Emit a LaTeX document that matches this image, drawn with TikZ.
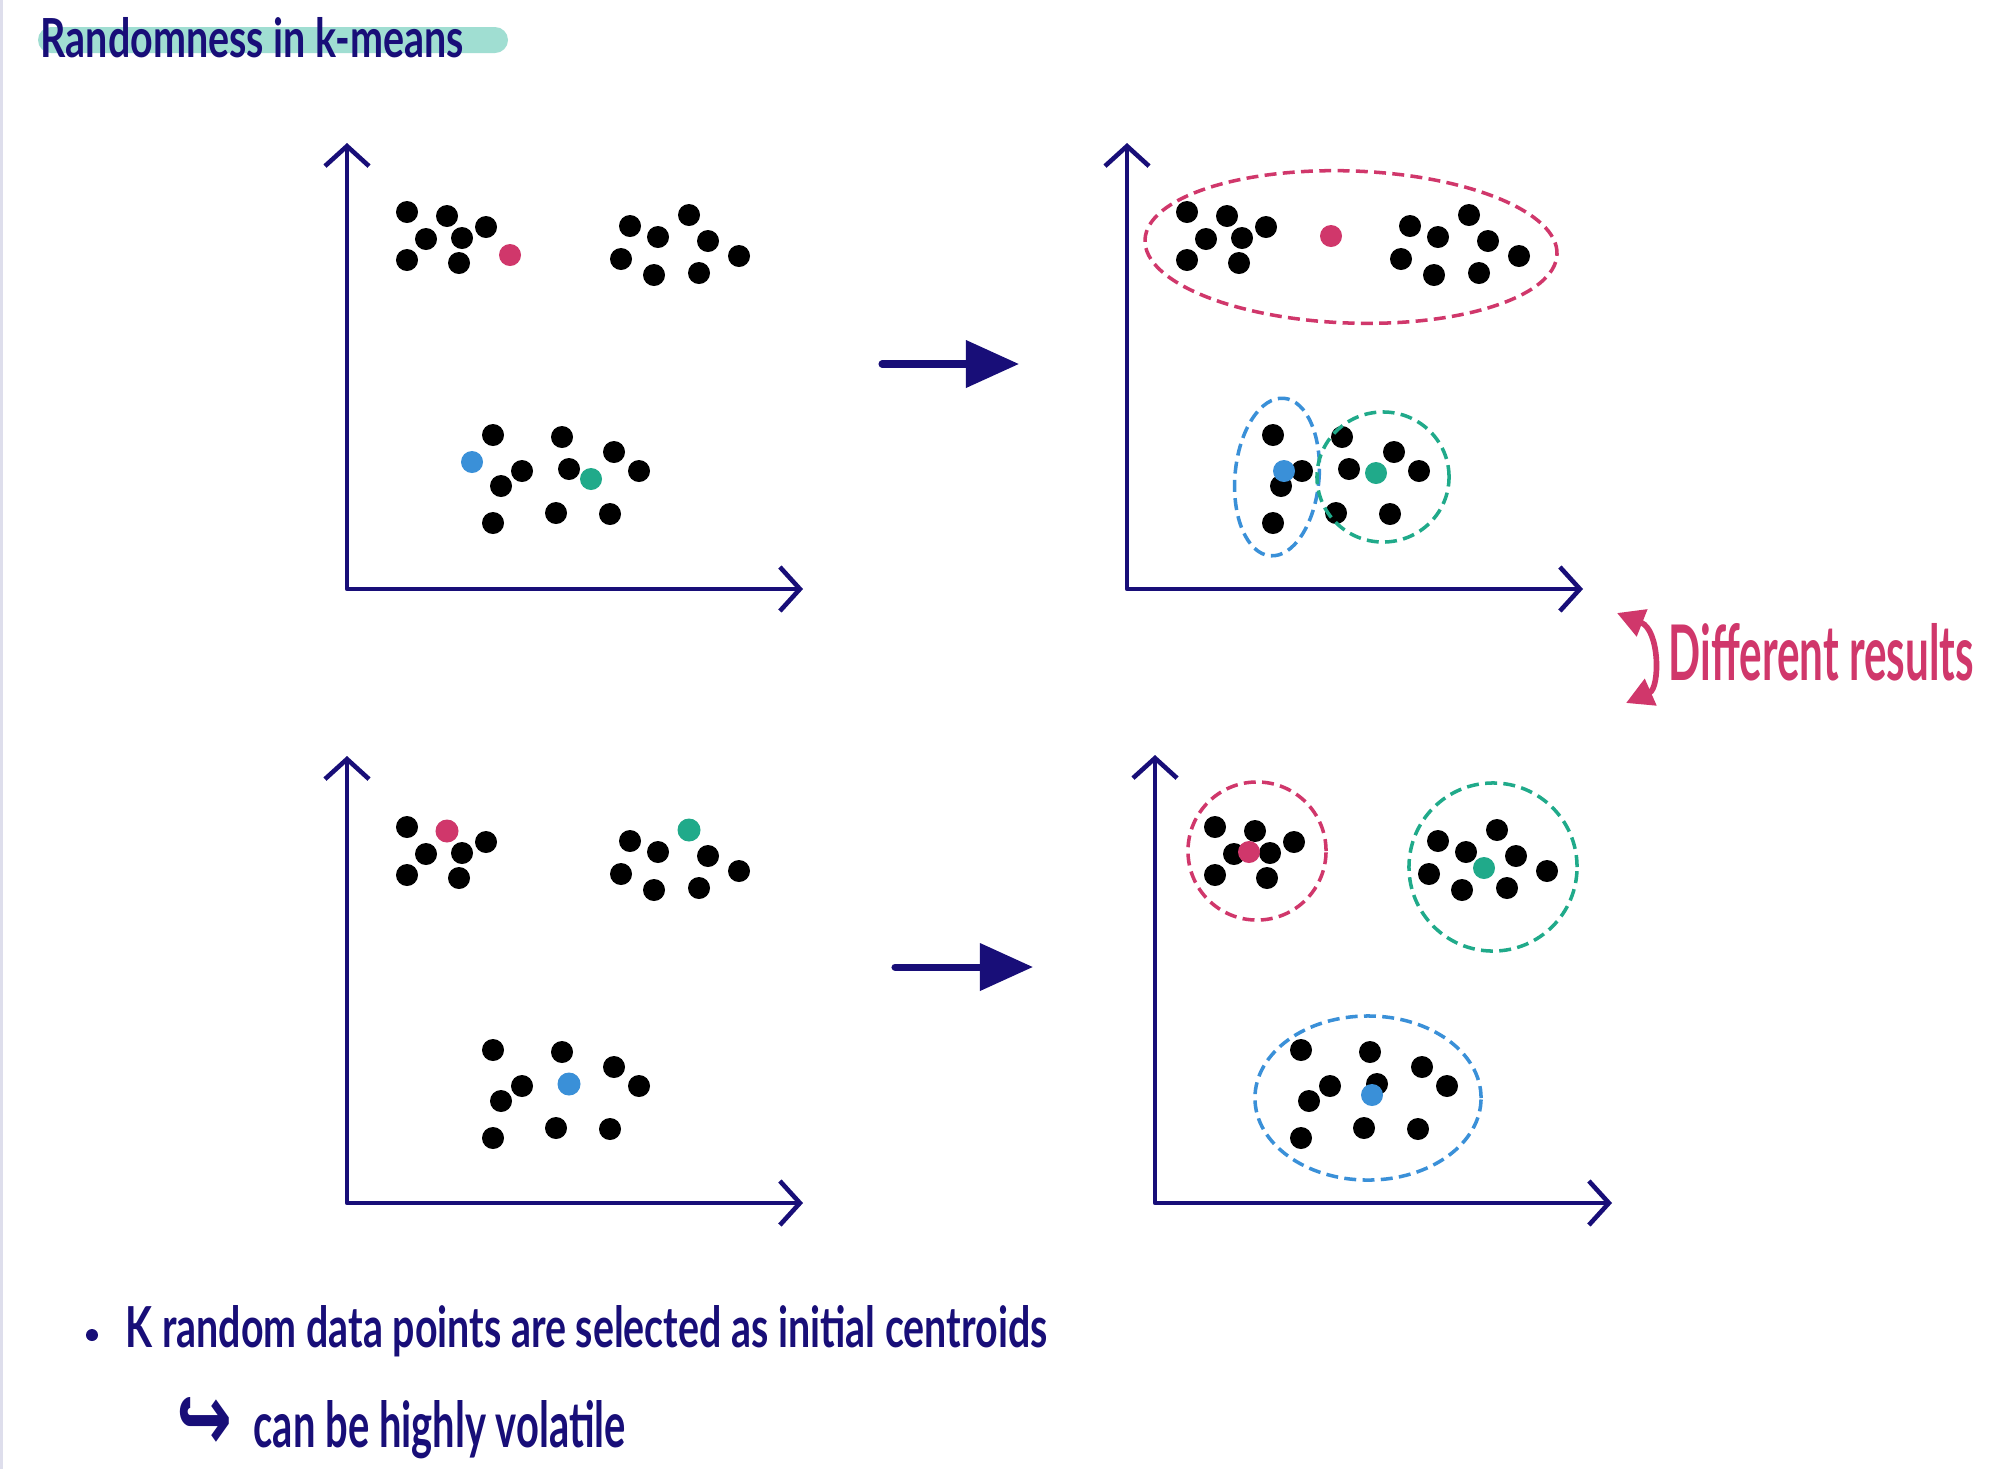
\documentclass[tikz,border=0pt]{standalone}
\usepackage{fontspec}
\setmainfont{Lato}
\newfontfamily\symfont{DejaVu Sans}
\usepackage{graphicx}
\usetikzlibrary{arrows.meta}
\definecolor{navy}{RGB}{24,14,120}
\definecolor{cpink}{RGB}{208,55,107}
\definecolor{cblue}{RGB}{58,144,216}
\definecolor{cteal}{RGB}{32,170,138}
\definecolor{hl}{RGB}{160,222,210}
\definecolor{edgegrey}{RGB}{222,222,236}
\begin{document}
\begin{tikzpicture}[x=0.01cm,y=-0.01cm,
  blackdot/.style={fill=black},
  centroid/.style={fill=#1},
  axis/.style={draw=navy, line width=1.3pt, line cap=round, line join=round,
    {Straight Barb[length=2mm,width=4.4mm]}-{Straight Barb[length=2mm,width=4.4mm]}},
  bigarrow/.style={draw=navy, line width=2pt, line cap=round,
    -{Triangle[length=5.3mm,width=4.6mm]}},
  cluster/.style={draw=#1, line width=1pt, dash pattern=on 3.4pt off 1.8pt},
  txt/.style={inner sep=0pt, anchor=base west, text=navy, font=\bfseries}]
\useasboundingbox (0,0) rectangle (2000,1469);
\fill[white] (0,0) rectangle (2000,1469);
\fill[edgegrey] (0,0) rectangle (3,1469);

% title
\fill[hl, rounded corners=0.13cm] (38,27) rectangle (508,53);
\node[txt] (title) at (40,57) {\resizebox{4.23cm}{0.40cm}{Randomness in k-means}};

\def\blackpts{407/212,447/216,486/227,426/239,462/238,407/260,459/263,
  630/226,658/237,689/215,708/241,621/259,654/275,699/273,739/256,
  493/435,562/437,614/452,522/471,569/469,639/471,501/486,556/513,610/514,493/523}

% ---------- panel TL ----------
\coordinate (tlY) at (347,143);
\coordinate (tlO) at (347,589);
\coordinate (tlX) at (803,589);
\draw[axis] (tlY) -- (tlO) -- (tlX);
\foreach \x/\y in \blackpts {\fill[blackdot] (\x,\y) circle (0.11cm);}
\fill[centroid=cpink] (510,255) circle (0.11cm);
\fill[centroid=cblue] (472,462) circle (0.11cm);
\fill[centroid=cteal] (591,479) circle (0.11cm);

% ---------- panel TR ----------
\coordinate (trY) at (1127,143);
\coordinate (trO) at (1127,589);
\coordinate (trX) at (1583,589);
\draw[axis] (trY) -- (trO) -- (trX);
\begin{scope}[shift={(780,0)}]
\foreach \x/\y in \blackpts {\fill[blackdot] (\x,\y) circle (0.11cm);}
\end{scope}
\fill[centroid=cpink] (1331,236) circle (0.11cm);
\fill[centroid=cblue] (1284,471) circle (0.11cm);
\fill[centroid=cteal] (1376,473) circle (0.11cm);
\draw[cluster=cpink, rotate around={-2:(1351,247)}] (1351,247) ellipse [x radius=2.06cm, y radius=0.76cm];
\draw[cluster=cblue, rotate around={-5:(1277,477)}] (1277,477) ellipse [x radius=0.42cm, y radius=0.79cm];
\draw[cluster=cteal] (1383,477) ellipse [x radius=0.66cm, y radius=0.65cm];

% ---------- panel BL ----------
\coordinate (blY) at (347,756);
\coordinate (blO) at (347,1203);
\coordinate (blX) at (803,1203);
\draw[axis] (blY) -- (blO) -- (blX);
\begin{scope}[shift={(0,615)}]
\foreach \x/\y in \blackpts {\fill[blackdot] (\x,\y) circle (0.11cm);}
\fill[centroid=cpink] (447,216) circle (0.115cm);
\fill[centroid=cteal] (689,215) circle (0.115cm);
\fill[centroid=cblue] (569,469) circle (0.115cm);
\end{scope}

% ---------- panel BR ----------
\coordinate (brY) at (1155,755);
\coordinate (brO) at (1155,1203);
\coordinate (brX) at (1612,1203);
\draw[axis] (brY) -- (brO) -- (brX);
\begin{scope}[shift={(808,615)}]
\foreach \x/\y in \blackpts {\fill[blackdot] (\x,\y) circle (0.11cm);}
\end{scope}
\fill[centroid=cpink] (1249,852) circle (0.11cm);
\fill[centroid=cteal] (1484,868) circle (0.11cm);
\fill[centroid=cblue] (1372,1095) circle (0.11cm);
\draw[cluster=cpink] (1257,851) circle (0.69cm);
\draw[cluster=cteal] (1493,867) circle (0.84cm);
\draw[cluster=cblue] (1368,1098) ellipse [x radius=1.13cm, y radius=0.82cm];

% ---------- big arrows ----------
\coordinate (a1s) at (882,364);
\coordinate (a1e) at (1019,364);
\draw[bigarrow] (a1s) -- (a1e);
\coordinate (a2s) at (895,967);
\coordinate (a2e) at (1033,967);
\draw[bigarrow] (a2s) -- (a2e);

% ---------- different results ----------
\coordinate (drT) at (1617,613);
\coordinate (drB) at (1626,703);
\draw[draw=cpink, line width=1.6pt,
  {Triangle[length=2.7mm,width=2.8mm]}-{Triangle[length=2.7mm,width=2.8mm]}]
  (drT) .. controls (1660,630) and (1660,688) .. (drB);
\node[txt, text=cpink] (diff) at (1668,680) {\resizebox{3.05cm}{0.57cm}{Different results}};

% ---------- notes ----------
\fill[navy] (92,1335) circle (0.06cm);
\node[txt] (note1) at (125,1347) {\resizebox{9.21cm}{0.42cm}{K random data points are selected as initial centroids}};
\node[txt] (hook) at (176,1450) {\resizebox{0.56cm}{0.53cm}{\symfont\bfseries ↪}};
\node[txt] (note2) at (253,1447) {\resizebox{3.72cm}{0.47cm}{can be highly volatile}};
\end{tikzpicture}
\end{document}
